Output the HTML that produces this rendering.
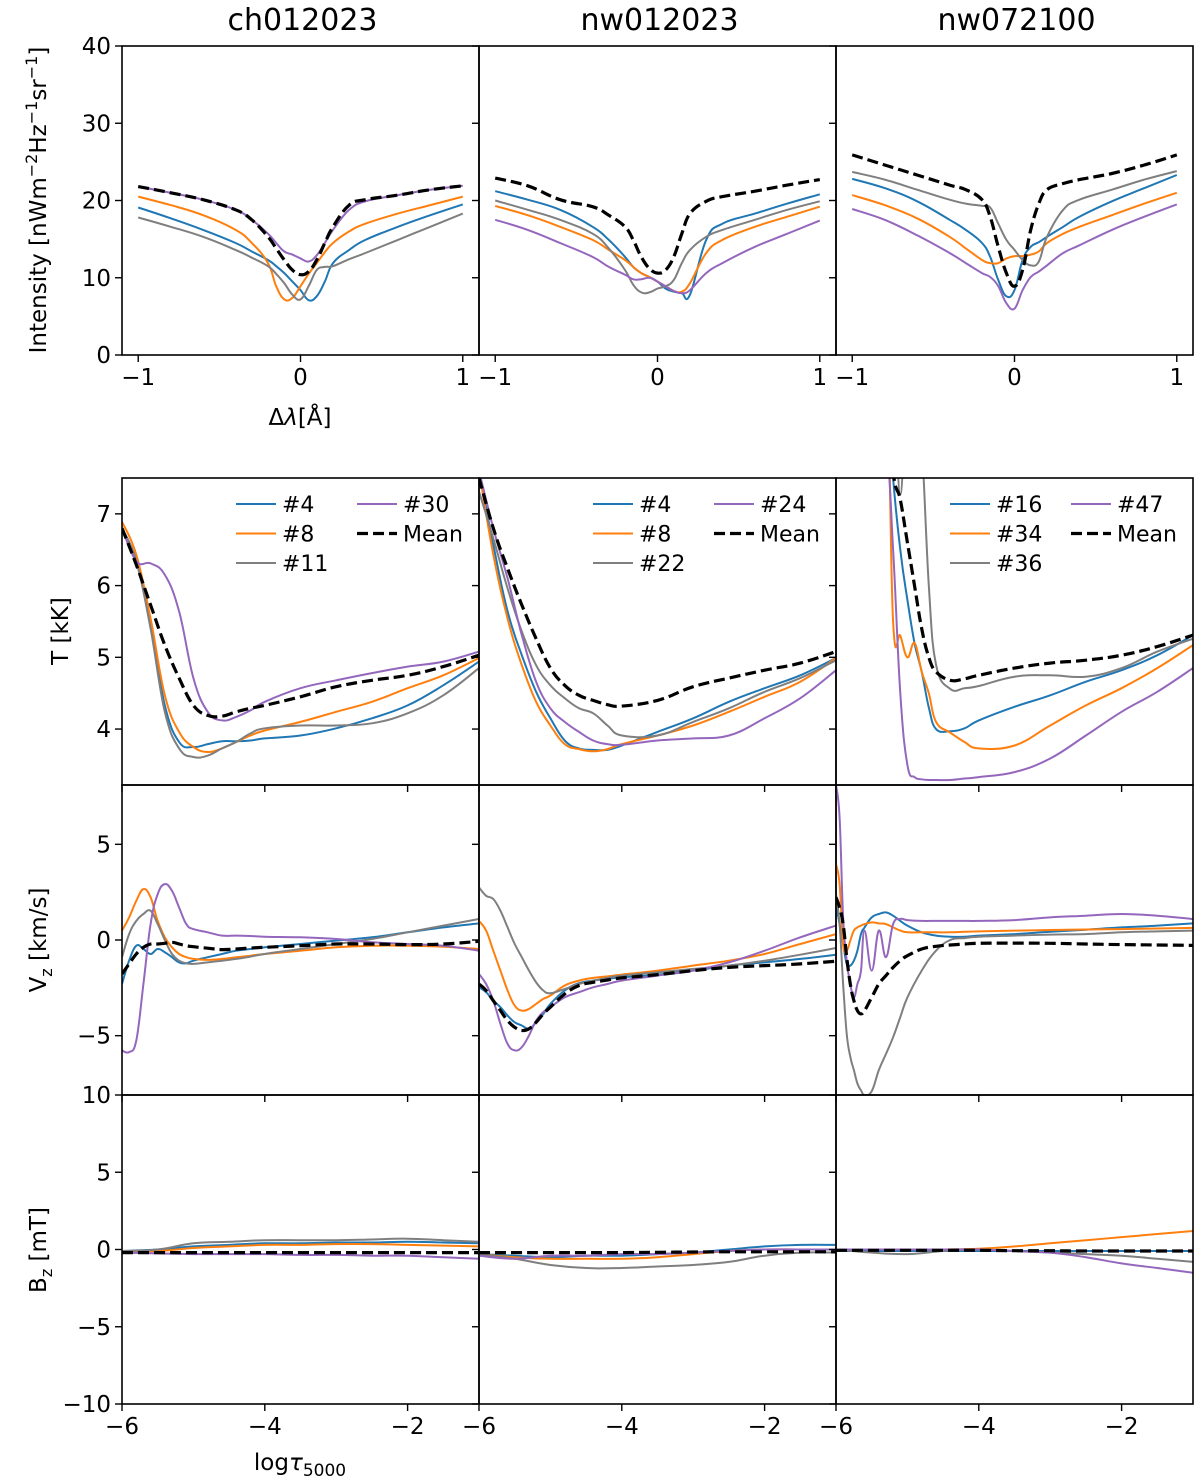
<!DOCTYPE html>
<html><head><meta charset="utf-8"><style>
html,body{margin:0;padding:0;background:#fff}
svg{display:block;font-family:"DejaVu Sans","Liberation Sans",sans-serif}
</style></head><body>
<svg id="fig" width="1200" height="1483" viewBox="0 0 1200 1483"></svg>
<script>
// ---- data ----
const specX = [-1,-0.8,-0.6,-0.4,-0.3,-0.2,-0.15,-0.1,-0.05,0,0.05,0.1,0.15,0.2,0.3,0.4,0.6,0.8,1];
const p1I_mean=[21.8,21.0,20.1,18.8,17.5,15.3,13.8,12.3,11.0,10.4,10.8,12.3,14.5,16.6,19.4,20.1,20.7,21.4,21.9];
const p1I_purple=[21.8,21.0,20.1,18.8,17.5,15.7,14.5,13.4,13.0,12.5,12.1,12.9,14.5,16.2,18.8,19.9,20.7,21.4,21.9];
const p1I_orange=[20.5,19.4,18.1,16.2,14.5,11.9,8.9,7.2,7.4,8.9,10.5,11.9,13.3,14.5,16.0,17.0,18.3,19.4,20.5];
const p1I_blue=[19.1,17.7,16.2,14.5,13.4,12.3,11.5,10.6,9.5,8.4,7.1,7.6,9.5,11.9,13.6,14.9,16.6,18.1,19.5];
const p1I_gray=[17.8,16.6,15.3,13.6,12.6,11.5,10.5,9.3,7.8,7.2,8.9,11.0,11.4,11.5,12.4,13.2,14.9,16.6,18.3];
const p2I_mean=[22.9,21.9,20.1,19.2,18.1,16.6,14.9,12.7,11.2,10.6,11.0,12.7,15.7,18.3,19.9,20.5,21.2,22.0,22.7];
const p2I_blue=[21.2,20.1,18.8,16.6,14.9,12.7,11.4,10.6,10.1,9.5,8.6,8.2,8.0,7.8,14.9,17.0,18.3,19.6,20.8];
const p2I_orange=[19.3,18.1,16.6,14.9,13.6,12.3,11.4,10.6,10.1,9.5,8.9,8.3,8.2,9.3,13.2,14.9,16.6,17.9,19.2];
const p2I_gray=[20.0,18.8,17.5,15.7,13.8,11.0,9.1,8.1,8.1,8.6,8.9,9.7,11.9,13.6,15.3,16.2,17.5,18.8,19.9];
const p2I_purple=[17.5,16.2,14.5,12.7,11.4,10.4,9.8,9.8,10.0,9.5,8.9,8.3,8.0,8.4,10.6,11.9,14.0,15.7,17.4];
const p3I_mean=[25.9,24.6,23.3,22.0,21.4,20.1,17.9,14.0,10.6,8.9,11.0,16.2,19.6,21.4,22.2,22.7,23.5,24.6,25.9];
const p3I_gray=[23.7,22.7,21.4,20.1,19.6,19.3,19.1,17.0,14.9,13.6,12.3,11.6,12.1,15.3,18.8,20.1,21.4,22.7,23.8];
const p3I_blue=[22.8,21.6,19.9,17.5,16.2,14.5,12.7,9.7,7.6,8.4,12.3,14.0,14.6,15.3,16.6,17.9,19.9,21.6,23.3];
const p3I_orange=[20.7,19.4,17.7,15.3,13.8,12.3,11.9,11.9,12.5,12.8,12.8,13.0,13.4,14.5,15.7,16.6,18.1,19.6,21.0];
const p3I_purple=[18.9,17.5,15.5,13.2,11.9,10.6,10.1,8.9,6.7,6.0,8.4,10.1,10.8,11.6,13.2,14.2,16.2,17.9,19.5];

const tauT = [-6,-5.8,-5.6,-5.4,-5.2,-5,-4.8,-4.6,-4.4,-4.2,-4,-3.5,-3,-2.5,-2,-1.5,-1];
const p1T_mean=[6.8,6.29,5.73,5.17,4.71,4.33,4.19,4.18,4.24,4.29,4.33,4.45,4.59,4.68,4.75,4.87,5.03];
const p1T_purple=[6.8,6.34,6.31,6.15,5.64,4.71,4.24,4.12,4.17,4.26,4.38,4.57,4.68,4.78,4.87,4.94,5.08];
const p1T_orange=[6.89,6.43,5.54,4.47,3.96,3.75,3.68,3.73,3.82,3.91,3.98,4.1,4.24,4.38,4.57,4.75,4.99];
const p1T_blue=[6.8,6.34,5.45,4.33,3.82,3.75,3.79,3.83,3.83,3.84,3.87,3.91,4.01,4.15,4.33,4.61,4.94];
const p1T_gray=[6.8,6.34,5.4,4.24,3.73,3.61,3.63,3.73,3.82,3.94,4.01,4.05,4.05,4.08,4.22,4.47,4.85];
const p2T_mean=[7.5,6.8,6.24,5.73,5.26,4.85,4.61,4.47,4.40,4.34,4.32,4.4,4.59,4.71,4.82,4.92,5.08];
const p2T_blue=[7.6,6.57,5.64,5.03,4.52,4.15,3.84,3.73,3.71,3.71,3.77,3.96,4.15,4.38,4.57,4.75,4.99];
const p2T_orange=[7.6,6.43,5.54,4.89,4.38,4.05,3.79,3.72,3.69,3.72,3.79,3.91,4.05,4.24,4.45,4.66,4.99];
const p2T_gray=[7.31,6.66,5.96,5.36,4.89,4.61,4.43,4.29,4.22,4.05,3.91,3.91,4.1,4.29,4.52,4.71,4.96];
const p2T_purple=[7.6,6.8,6.1,5.31,4.66,4.29,4.1,3.96,3.84,3.79,3.78,3.84,3.87,3.91,4.15,4.43,4.82];
const tauT3 = [-6,-5.5,-5.3,-5.2,-5.1,-5.0,-4.9,-4.8,-4.7,-4.6,-4.4,-4.2,-4,-3.5,-3,-2.5,-2,-1.5,-1];
const p3T_mean=[9,9,9,7.6,7.2,6.6,6.0,5.4,5.0,4.8,4.68,4.7,4.75,4.85,4.92,4.96,5.03,5.15,5.31];
const p3T_gray=[9,9,9,9,7.27,9,9,8,6.0,4.9,4.56,4.57,4.6,4.73,4.75,4.73,4.85,5.08,5.26];
const p3T_blue=[9,9,9,7.5,6.5,5.8,5.2,4.8,4.3,4.0,3.97,4.01,4.12,4.31,4.47,4.66,4.82,5.03,5.31];
const p3T_orange=[9,9,9,5.5,5.3,5.0,5.2,4.8,4.5,4.1,3.95,3.82,3.73,3.77,4.05,4.33,4.57,4.85,5.17];
const p3T_purple=[9,9,8,6.5,4.5,3.5,3.33,3.3,3.29,3.29,3.29,3.31,3.33,3.4,3.59,3.91,4.24,4.52,4.85];

const tauV = [-6,-5.9,-5.8,-5.7,-5.6,-5.5,-5.4,-5.3,-5.2,-5.1,-5,-4.8,-4.6,-4.4,-4.2,-4,-3.5,-3,-2.5,-2,-1.5,-1];
const p1V_mean=[-1.77,-1.25,-0.73,-0.38,-0.21,-0.21,-0.17,-0.12,-0.21,-0.3,-0.35,-0.43,-0.5,-0.47,-0.42,-0.38,-0.3,-0.21,-0.21,-0.24,-0.21,-0.07];
const p1V_orange=[0.49,1.18,2.05,2.66,2.23,1.0,0.14,-0.38,-0.73,-0.9,-0.99,-1.04,-0.99,-0.9,-0.82,-0.73,-0.56,-0.38,-0.3,-0.3,-0.35,-0.47];
const p1V_gray=[-0.9,0.31,1.0,1.36,1.53,0.83,0,-0.73,-1.08,-1.22,-1.25,-1.17,-1.08,-0.99,-0.87,-0.73,-0.47,-0.21,0.05,0.4,0.75,1.1];
const p1V_blue=[-2.3,-1.08,-0.3,-0.47,-0.73,-0.47,-0.64,-0.9,-1.17,-1.22,-1.08,-0.9,-0.73,-0.56,-0.47,-0.38,-0.21,-0.03,0.14,0.4,0.66,0.87];
const p1V_purple=[-5.77,-5.86,-5.25,-2.3,0.83,2.4,2.92,2.57,1.7,0.83,0.57,0.4,0.23,0.23,0.21,0.17,0.14,0.05,-0.12,-0.21,-0.3,-0.56];
const p2V_mean=[-2.3,-2.64,-3.17,-3.69,-4.21,-4.56,-4.73,-4.64,-4.3,-3.86,-3.51,-2.82,-2.38,-2.21,-2.09,-1.98,-1.81,-1.6,-1.43,-1.34,-1.25,-1.11];
const p2V_blue=[-2.47,-2.73,-3.17,-3.51,-3.95,-4.3,-4.47,-4.64,-4.3,-3.86,-3.34,-2.64,-2.26,-2.12,-2.03,-1.95,-1.81,-1.6,-1.34,-1.17,-0.99,-0.77];
const p2V_orange=[1.0,0.49,-0.56,-1.6,-2.64,-3.43,-3.69,-3.6,-3.34,-3.08,-2.9,-2.38,-2.12,-1.98,-1.9,-1.81,-1.6,-1.34,-1.08,-0.73,-0.21,0.31];
const p2V_gray=[2.75,2.31,2.14,1.53,0.66,-0.21,-0.9,-1.6,-2.21,-2.64,-2.78,-2.56,-2.3,-2.12,-1.98,-1.86,-1.69,-1.51,-1.34,-1.08,-0.77,-0.42];
const p2V_purple=[-1.77,-2.3,-3.17,-4.38,-5.43,-5.77,-5.6,-4.99,-4.21,-3.77,-3.51,-3.0,-2.73,-2.47,-2.3,-2.12,-1.86,-1.6,-1.17,-0.56,0.14,0.75];
const tauV3 = [-6,-5.95,-5.9,-5.85,-5.8,-5.75,-5.7,-5.65,-5.6,-5.5,-5.4,-5.3,-5.2,-5.1,-5,-4.8,-4.6,-4.4,-4.2,-4,-3.5,-3,-2.5,-2,-1.5,-1];
const p3V_mean=[2.23,1.7,0.83,-0.9,-2.3,-3.17,-3.69,-3.86,-3.69,-3.0,-2.3,-1.86,-1.43,-1.08,-0.82,-0.47,-0.33,-0.26,-0.21,-0.17,-0.16,-0.17,-0.21,-0.24,-0.26,-0.28];
const p3V_gray=[2.4,0.83,-2.3,-4.9,-6.1,-6.8,-7.5,-7.86,-8.1,-7.9,-6.8,-5.95,-5.08,-4.03,-3.0,-1.6,-0.56,0,0.1,0.17,0.23,0.28,0.31,0.4,0.45,0.49];
const p3V_blue=[1.88,0.83,-0.21,-1.25,-1.34,-1.08,-0.56,0.31,0.66,1.18,1.36,1.44,1.27,1.0,0.75,0.4,0.23,0.17,0.17,0.23,0.31,0.43,0.54,0.66,0.75,0.87];
const p3V_orange=[3.97,2.92,-0.21,-0.56,-0.03,0.49,0.66,0.75,0.83,0.92,0.87,0.83,0.66,0.49,0.4,0.4,0.4,0.4,0.43,0.45,0.49,0.52,0.55,0.57,0.6,0.63];
const p3V_purple=[8.1,6.4,1.18,-1.08,-2.3,-3.0,-2.3,-1.6,0.49,-1.6,0.49,-0.9,0.83,1.1,1.04,1.0,1.0,1.0,1.0,1.0,1.04,1.18,1.27,1.36,1.27,1.1];

const tauB = [-6,-5.5,-5,-4.5,-4,-3.5,-3,-2.5,-2,-1.5,-1];
const p1B_mean=[-0.2,-0.2,-0.2,-0.2,-0.2,-0.2,-0.2,-0.2,-0.2,-0.2,-0.2];
const p1B_gray=[-0.1,0,0.4,0.5,0.6,0.6,0.6,0.65,0.7,0.6,0.5];
const p1B_blue=[-0.1,0,0.2,0.3,0.4,0.4,0.45,0.45,0.5,0.45,0.4];
const p1B_orange=[-0.1,-0.1,0.1,0.2,0.3,0.3,0.35,0.35,0.3,0.25,0.2];
const p1B_purple=[-0.2,-0.25,-0.3,-0.3,-0.3,-0.35,-0.35,-0.4,-0.4,-0.5,-0.6];
const p2B_mean=[-0.2,-0.2,-0.2,-0.2,-0.2,-0.18,-0.16,-0.15,-0.15,-0.15,-0.15];
const p2B_gray=[-0.3,-0.6,-1.0,-1.2,-1.2,-1.1,-1.0,-0.8,-0.4,-0.2,-0.2];
const p2B_orange=[-0.3,-0.5,-0.6,-0.6,-0.6,-0.5,-0.3,-0.1,0,0,0];
const p2B_purple=[-0.4,-0.6,-0.4,-0.4,-0.3,-0.3,-0.2,-0.1,0,0,0];
const p2B_blue=[-0.3,-0.4,-0.5,-0.4,-0.4,-0.3,-0.2,0,0.2,0.3,0.3];
const p3B_mean=[-0.05,-0.05,-0.05,-0.05,-0.05,-0.08,-0.08,-0.1,-0.1,-0.1,-0.1];
const p3B_orange=[0,0,0,0,0.05,0.2,0.4,0.6,0.8,1.0,1.2];
const p3B_purple=[0,0,0,0,0,-0.1,-0.2,-0.5,-0.9,-1.2,-1.5];
const p3B_gray=[0,-0.2,-0.3,-0.1,0,-0.1,-0.2,-0.3,-0.4,-0.6,-0.8];
const p3B_blue=[-0.1,-0.1,-0.1,-0.1,-0.1,-0.1,-0.1,-0.1,-0.1,-0.1,-0.1];

const titles=["ch012023","nw012023","nw072100"];
const legends=[["#4","#8","#11","#30"],["#4","#8","#22","#24"],["#16","#34","#36","#47"]];

// ---- drawing ----
const C={blue:"#1f77b4",orange:"#ff7f0e",gray:"#7f7f7f",purple:"#9467bd",mean:"#000"};
const svg=document.getElementById('fig');
const NS="http://www.w3.org/2000/svg";
function mk(tag,attrs,parent){const e=document.createElementNS(NS,tag);for(const k in attrs)e.setAttribute(k,attrs[k]);(parent||svg).appendChild(e);return e;}
const colX=[122,479,836], colW=357;
function lin(d0,d1,p0,p1){return v=>p0+(v-d0)*(p1-p0)/(d1-d0);}
function smooth(pts){
  let d='M'+pts[0][0].toFixed(1)+','+pts[0][1].toFixed(1);
  for(let i=0;i<pts.length-1;i++){
    const p0=pts[Math.max(0,i-1)],p1=pts[i],p2=pts[i+1],p3=pts[Math.min(pts.length-1,i+2)];
    const t=0.2;
    const c1=[p1[0]+(p2[0]-p0[0])*t,p1[1]+(p2[1]-p0[1])*t];
    const c2=[p2[0]-(p3[0]-p1[0])*t,p2[1]-(p3[1]-p1[1])*t];
    d+='C'+c1.map(v=>v.toFixed(1)).join(',')+' '+c2.map(v=>v.toFixed(1)).join(',')+' '+p2[0].toFixed(1)+','+p2[1].toFixed(1);
  }
  return d;
}

function panel(col,top,bottom,xd,yd,series,xs,opts){
  const L=colX[col],R=L+colW;
  const sx=lin(xd[0],xd[1],L,R), sy=lin(yd[0],yd[1],bottom,top);
  const g=mk('g',{});
  
  
  const cid='clip'+opts.name;
  const cp=mk('clipPath',{id:cid},g);mk('rect',{x:L,y:top,width:colW,height:bottom-top},cp);
  const sg=mk('g',{'clip-path':'url(#'+cid+')'},g);
  for(const s of series){
    const xarr=s.x||xs;
    const d=smooth(xarr.map((x,i)=>[sx(x),sy(s.v[i])]));
    const p=mk('path',{d:d,fill:'none',stroke:C[s.c],'stroke-width':s.c==='mean'?3.2:2,'stroke-dasharray':s.c==='mean'?'11,5':'none','stroke-linejoin':'round'},sg);
    
    
  }
  mk('rect',{x:L,y:top,width:colW,height:bottom-top,fill:'none',stroke:'#000','stroke-width':1.6},g);
  for(const t of opts.yt){const y=sy(t);mk('line',{x1:L-7,x2:L,y1:y,y2:y,stroke:'#000','stroke-width':1.4},g);
    if(col===0){const tx=mk('text',{x:L-11,y:y+8,'text-anchor':'end','font-size':23},g);tx.textContent=String(t).replace('-','−');}}
  for(const t of opts.xt){const x=sx(t);mk('line',{x1:x,x2:x,y1:bottom,y2:bottom+7,stroke:'#000','stroke-width':1.4},g);
    if(opts.xl){const tx=mk('text',{x:x,y:bottom+30,'text-anchor':'middle','font-size':23},g);tx.textContent=String(t).replace('-','−');}}
  return g;
}
const order=["blue","orange","gray","purple","mean"];
function ser(prefix,p,x){return order.map(c=>({c:c,n:c,v:eval(prefix.replace('#',p)+'_'+c),x:x}));}

for(let p=0;p<3;p++){
  const n=p+1;
  panel(p,46,355,[-1.1,1.1],[0,40],ser('p#I',n),specX,{name:'intensity-panel-'+n,yt:[0,10,20,30,40],xt:[-1,0,1],xl:true});
  panel(p,478,785,[-6,-1],[3.22,7.5],ser('p#T',n,p===2?tauT3:tauT),tauT,{name:'temperature-panel-'+n,yt:[4,5,6,7],xt:[-6,-4,-2],xl:false});
  panel(p,785,1095,[-6,-1],[-8.1,8.1],ser('p#V',n,p===2?tauV3:tauV),tauV,{name:'velocity-panel-'+n,yt:[-5,0,5],xt:[-6,-4,-2],xl:false});
  panel(p,1095,1404,[-6,-1],[-10,10],ser('p#B',n),tauB,{name:'bfield-panel-'+n,yt:[-10,-5,0,5,10],xt:[-6,-4,-2],xl:true});
  const t=mk('text',{x:colX[p]+colW/2+2,y:30,'text-anchor':'middle','font-size':30});t.textContent=titles[p];
  
  const lg=mk('g',{});
  const L=colX[p];
  const ents=[[legends[p][0],'blue',0,0],[legends[p][1],'orange',0,1],[legends[p][2],'gray',0,2],[legends[p][3],'purple',1,0],['Mean','mean',1,1]];
  for(const e of ents){
    const x0=L+(e[2]?235:114), y0=504+e[3]*29.5;
    mk('line',{x1:x0,x2:x0+40,y1:y0,y2:y0,stroke:C[e[1]],'stroke-width':e[1]==='mean'?3.2:2,'stroke-dasharray':e[1]==='mean'?'11,5':'none'},lg);
    const tx=mk('text',{x:x0+46,y:y0+8,'font-size':22},lg);tx.textContent=e[0];
  }
}
function lab(txt,x,y,rot,name,size){const t=mk('text',{x:x,y:y,'text-anchor':'middle','font-size':size||23,transform:rot?`rotate(-90 ${x} ${y})`:''});t.innerHTML=txt;
  }
lab('Intensity [nWm<tspan dy="-9" font-size="16">−2</tspan><tspan dy="9">Hz</tspan><tspan dy="-9" font-size="16">−1</tspan><tspan dy="9">sr</tspan><tspan dy="-9" font-size="16">−1</tspan><tspan dy="9">]</tspan>',46,200,true,'y-axis-title-intensity');
lab('T [kK]',68,631,true,'y-axis-title-temperature');
lab('V<tspan dy="6" font-size="16">z</tspan><tspan dy="-6"> [km/s]</tspan>',46,940,true,'y-axis-title-velocity');
lab('B<tspan dy="6" font-size="16">z</tspan><tspan dy="-6"> [mT]</tspan>',46,1250,true,'y-axis-title-bfield');
lab('Δ<tspan font-style="italic">λ</tspan>[Å]',300,425,false,'x-axis-title-wavelength');
lab('log<tspan font-style="italic">τ</tspan><tspan dy="6" font-size="17">5000</tspan>',300,1470,false,'x-axis-title-optical-depth');
</script>
</body></html>
